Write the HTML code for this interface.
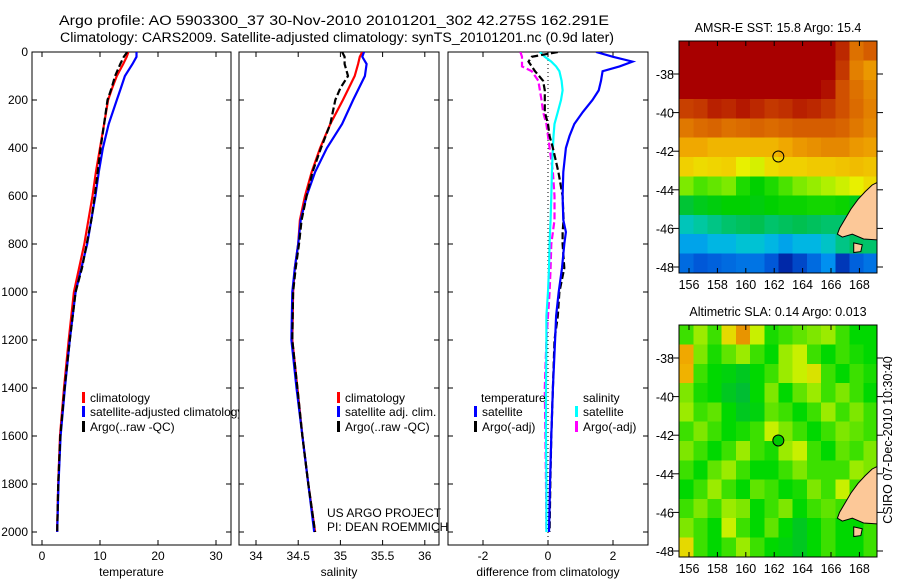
<!DOCTYPE html>
<html><head><meta charset="utf-8">
<style>
html,body{margin:0;padding:0;background:#fff;}
svg{display:block;font-family:"Liberation Sans",sans-serif;}
</style></head>
<body>
<svg id="fig" width="900" height="580" viewBox="0 0 900 580">
<defs>
<clipPath id="c1"><rect x="32" y="52" width="199" height="493"/></clipPath>
<clipPath id="c2"><rect x="239" y="52" width="200" height="493"/></clipPath>
<clipPath id="c3"><rect x="448" y="52" width="200" height="493"/></clipPath>
<clipPath id="m1"><rect x="679" y="41" width="198" height="232"/></clipPath>
<clipPath id="m2"><rect x="679" y="325" width="198" height="232"/></clipPath>
</defs>
<text x="59" y="25" font-size="13.5" textLength="550" lengthAdjust="spacingAndGlyphs">Argo profile: AO 5903300_37 30-Nov-2010 20101201_302 42.275S 162.291E</text>
<text x="60" y="42" font-size="13.5" textLength="554" lengthAdjust="spacingAndGlyphs">Climatology: CARS2009. Satellite-adjusted climatology: synTS_20101201.nc (0.9d later)</text>
<g id="g1"></g>
<g id="g2"></g>
<g id="g3"></g>
<g id="gm1"></g>
<g id="gm2"></g>
<text x="327" y="517" font-size="12">US ARGO PROJECT</text>
<text x="327" y="531" font-size="12">PI: DEAN ROEMMICH</text>
<text x="892" y="440" font-size="12.5" text-anchor="middle" transform="rotate(-90 892 440)">CSIRO 07-Dec-2010 10:30:40</text>
</svg>
<script>
// ---- profile data ----
const depths = [0,20,50,100,150,200,300,400,500,600,700,800,900,1000,1200,1400,1600,1800,2000];
const climT = [14.9,14.6,14.0,12.9,12.1,11.4,10.7,10.0,9.3,8.7,8.0,7.3,6.4,5.5,4.6,3.8,3.1,2.8,2.6];
const satT = [16.3,16.3,15.6,14.3,13.6,12.9,11.5,10.5,9.8,9.2,8.5,7.8,6.8,5.8,4.8,3.95,3.2,2.85,2.62];
const argoT = [14.7,14.1,13.5,12.6,12.0,11.3,10.7,10.1,9.6,9.1,8.5,7.7,6.9,5.8,4.8,3.9,3.15,2.8,2.62];
const climS = [35.26,35.23,35.21,35.17,35.1,35.03,34.88,34.76,34.66,34.58,34.52,34.50,34.46,34.44,34.43,34.49,34.55,34.62,34.70];
const satS = [35.28,35.26,35.31,35.29,35.22,35.15,35.02,34.84,34.70,34.60,34.53,34.50,34.46,34.43,34.42,34.48,34.55,34.62,34.69];
const argoS = [35.02,35.05,35.05,35.09,35.0,34.94,34.88,34.77,34.67,34.6,34.54,34.51,34.47,34.44,34.43,34.49,34.55,34.62,34.70];
const diffDepths = [0,20,40,60,80,120,160,200,250,300,350,400,500,600,700,750,800,900,1000,1100,1200,1400,1600,1800,2000];
const dTsat = [1.48,2.0,2.6,2.2,1.68,1.63,1.56,1.37,1.07,0.81,0.66,0.55,0.47,0.45,0.47,0.55,0.5,0.43,0.33,0.25,0.22,0.15,0.1,0.06,0.03];
const dTargo = [0.3,-0.5,-0.6,-0.5,-0.4,-0.15,-0.1,-0.1,-0.1,0.0,0.05,0.15,0.32,0.45,0.48,0.45,0.45,0.5,0.35,0.3,0.2,0.15,0.1,0.07,0.05];
const dSsat = [-0.25,-0.1,0.1,0.25,0.35,0.42,0.45,0.4,0.3,0.2,0.17,0.15,0.12,0.1,0.08,0.06,0.05,0.03,0.0,-0.05,-0.05,-0.06,-0.06,-0.05,-0.05];
const dSargo = [-0.85,-0.8,-0.8,-0.8,-0.5,-0.3,-0.25,-0.2,-0.15,-0.05,0.0,0.05,0.15,0.2,0.2,0.15,0.1,0.08,0.05,0.0,-0.05,-0.1,-0.08,-0.06,-0.05];
const depthTicks = [0,200,400,600,800,1000,1200,1400,1600,1800,2000];
const tempTicks = [0,10,20,30];
const salTicks = [34,34.5,35,35.5,36];
const salTickLabels = ["34","34.5","35","35.5","36"];
const diffTicks = [-2,0,2];
// ---- map data ----
const mapLons = [155.8,156.8,157.8,158.8,159.8,160.8,161.8,162.8,163.8,164.8,165.8,166.8,167.8,168.8];
const mapLats = [-36.8,-37.8,-38.8,-39.8,-40.8,-41.8,-42.8,-43.8,-44.8,-45.8,-46.8,-47.8];
const sstGrid = [
[18,18,18,18,18,18,18,18,18,18,18,17.5,16.5,16.8],
[18,18,18,18,18,18,18,18,18,18,18,17.3,16.3,16.0],
[18,18,18,18,18,18,18,18,18,18,17.8,17,16.5,16.2],
[17.2,17.3,17.6,17.5,17.7,17.5,17.3,17.4,17.6,17.5,17.3,17.0,16.6,16.3],
[16.4,16.6,16.7,16.5,16.6,16.7,16.6,16.7,16.8,16.8,16.8,16.7,16.4,16.2],
[15.8,15.8,15.6,15.6,15.6,15.6,15.6,15.8,16.0,16.1,16.2,16.2,16.0,15.9],
[15.2,15.0,15.1,15.2,14.6,14.4,15.0,15.2,15.2,15.3,15.3,15.4,15.5,15.4],
[13.8,13.6,13.7,13.8,13.3,13.0,13.3,13.6,13.8,13.9,14.0,14.3,14.6,15.0],
[12.6,12.8,12.9,13.0,13.0,12.9,13.0,13.1,13.1,13.2,13.2,13.1,12.8,12.8],
[11.6,11.8,12.0,12.2,12.3,12.4,12.2,12.3,12.4,12.3,12.2,12.2,12.4,12.6],
[11.0,11.0,11.2,11.2,11.4,11.4,11.2,11.0,11.2,11.2,11.5,12.0,12.3,12.2],
[10.4,10.2,10.3,10.4,10.5,10.5,10.2,9.6,10.0,10.4,10.8,9.8,10.3,10.5]];
const slaGrid = [
[0.05,0.12,0.05,0.2,0.35,0.15,0.02,0.05,0.08,0.1,0.12,0.05,0.0,0.0],
[0.3,0.1,0.02,0.08,0.12,0.05,0.0,0.12,0.15,0.05,0.0,0.05,0.02,0.0],
[0.28,0.05,0.0,-0.02,-0.05,0.0,0.05,0.12,0.15,0.18,0.05,0.0,0.05,0.02],
[0.1,0.02,0.0,-0.05,-0.08,0.0,0.1,0.0,0.08,0.12,0.05,0.1,0.05,0.0],
[0.12,0.05,0.08,0.0,-0.05,-0.02,0.08,0.05,0.0,0.05,0.12,0.05,0.1,0.05],
[0.05,0.1,0.05,0.0,0.02,0.05,0.15,0.1,0.05,0.0,0.05,0.1,0.08,0.05],
[0.1,0.05,0.0,0.05,0.12,0.05,0.02,0.12,0.15,0.05,0.0,0.08,0.05,0.1],
[0.05,0.0,0.08,0.12,0.05,0.0,0.0,0.05,0.1,0.05,0.05,0.05,0.12,0.1],
[0.0,0.05,0.12,0.05,0.0,0.08,0.05,0.0,0.02,0.1,0.05,0.15,0.05,0.05],
[0.05,0.1,0.05,0.12,0.1,0.0,0.05,0.1,0.0,0.05,0.08,0.05,0.0,0.0],
[0.1,0.05,0.0,0.15,0.05,0.0,0.08,0.0,-0.05,0.0,0.05,0.0,0.0,0.05],
[0.2,0.05,0.0,0.05,0.12,0.05,0.0,-0.02,-0.05,0.0,0.05,0.0,0.0,0.05]];
const argoLon = 162.291, argoLat = -42.275;
const lonTicks = [156,158,160,162,164,166,168];
const latTicks = [-38,-40,-42,-44,-46,-48];
const landLonLat = [[169.3,-43.6],[168.9,-43.75],[168.4,-44.1],[167.9,-44.5],[167.4,-45.0],[167.0,-45.5],[166.6,-46.0],[166.45,-46.3],[166.8,-46.45],[167.5,-46.3],[168.3,-46.55],[169.3,-46.6]];
const islandLonLat = [[167.6,-46.75],[168.2,-46.85],[168.1,-47.2],[167.6,-47.25]];

const NS='http://www.w3.org/2000/svg';
function mk(tag, attrs, parent){const e=document.createElementNS(NS,tag);for(const k in attrs)e.setAttribute(k,attrs[k]);parent.appendChild(e);return e;}
const yD = d => 52 + d*0.24;

function panel(g, x0, x1, clip, xf, xticks, xlabels, xtitle, showYLabels){
  const fr=mk('rect',{x:x0,y:52,width:x1-x0,height:493,fill:'#fff',stroke:'#000','stroke-width':1},g);
  
  
  depthTicks.forEach(d=>{
    const y=yD(d);
    mk('line',{x1:x0,x2:x0+5,y1:y,y2:y,stroke:'#000'},g);
    mk('line',{x1:x1-5,x2:x1,y1:y,y2:y,stroke:'#000'},g);
    if(showYLabels){const t=mk('text',{x:x0-4,y:y+4,'font-size':12,'text-anchor':'end'},g);t.textContent=d;
      
      }
  });
  xticks.forEach((v,i)=>{
    const x=xf(v);
    mk('line',{x1:x,x2:x,y1:52,y2:57,stroke:'#000'},g);
    mk('line',{x1:x,x2:x,y1:540,y2:545,stroke:'#000'},g);
    const t=mk('text',{x:x,y:560,'font-size':12,'text-anchor':'middle'},g);t.textContent=xlabels[i];
    
    
  });
  const tt=mk('text',{x:(x0+x1)/2,y:576,'font-size':12,'text-anchor':'middle'},g);tt.textContent=xtitle;
  
  
  return mk('g',{'clip-path':'url(#'+clip+')'},g);
}
function line(g, ds, vs, xf, color, dash, name){
  const p=mk('path',{d:ds.map((d,i)=>(i?'L':'M')+xf(vs[i]).toFixed(1)+','+yD(d).toFixed(1)).join(''),fill:'none',stroke:color,'stroke-width':2.2,'stroke-dasharray':dash||'none'},g);
  
  
}
function legend(g,x,y,color,label,name){
  mk('rect',{x:x,y:y-10,width:3,height:11,fill:color},g);
  const t=mk('text',{x:x+8,y:y,'font-size':12},g);t.textContent=label;
  
  
}
// temperature
const xT=v=>42+v*5.8;
const g1=document.getElementById('g1');
const p1=panel(g1,32,231,'c1',xT,tempTicks,tempTicks.map(String),'temperature',true);
line(p1,depths,climT,xT,'#f00',null,'climatology-temperature-line');
line(p1,depths,satT,xT,'#00f',null,'satellite-temperature-line');
line(p1,depths,argoT,xT,'#000','7,3','argo-temperature-line');
const l1=mk('g',{},g1);
legend(l1,82,402,'#f00','climatology','legend-climatology');
legend(l1,82,416,'#00f','satellite-adjusted climatology','legend-satellite-adjusted');
legend(l1,82,431,'#000','Argo(..raw -QC)','legend-argo');
// salinity
const xS=v=>256+(v-34)*84.4;
const g2=document.getElementById('g2');
const p2=panel(g2,239,439,'c2',xS,salTicks,salTickLabels,'salinity',false);
line(p2,depths,climS,xS,'#f00',null,'climatology-salinity-line');
line(p2,depths,satS,xS,'#00f',null,'satellite-salinity-line');
line(p2,depths,argoS,xS,'#000','7,3','argo-salinity-line');
legend(g2,337,402,'#f00','climatology','legend-climatology-sal');
legend(g2,337,416,'#00f','satellite adj. clim.','legend-satellite-sal');
legend(g2,337,431,'#000','Argo(..raw -QC)','legend-argo-sal');
// difference
const xDf=v=>548+v*32.5;
const g3=document.getElementById('g3');
const p3=panel(g3,448,648,'c3',xDf,diffTicks,diffTicks.map(String),'difference from climatology',false);
const zl=mk('line',{x1:xDf(0),x2:xDf(0),y1:52,y2:545,stroke:'#000','stroke-dasharray':'1,3'},p3);


line(p3,diffDepths,dSargo,xDf,'#f0f','7,3','argo-salinity-diff-line');
line(p3,diffDepths,dSsat,xDf,'#0ff',null,'satellite-salinity-diff-line');
line(p3,diffDepths,dTargo,xDf,'#000','7,3','argo-temperature-diff-line');
line(p3,diffDepths,dTsat,xDf,'#00f',null,'satellite-temperature-diff-line');
const th=mk('text',{x:481,y:402,'font-size':12},g3);th.textContent='temperature';


const sh=mk('text',{x:583,y:402,'font-size':12},g3);sh.textContent='salinity';


legend(g3,474,416,'#00f','satellite','legend-temp-satellite');
legend(g3,474,431,'#000','Argo(-adj)','legend-temp-argo');
legend(g3,575,416,'#0ff','satellite','legend-sal-satellite');
legend(g3,575,431,'#f0f','Argo(-adj)','legend-sal-argo');

// colormaps
function hex(c){return [parseInt(c.slice(1,3),16),parseInt(c.slice(3,5),16),parseInt(c.slice(5,7),16)];}
function cmap(stops,v){
  if(v<=stops[0][0])return stops[0][1];
  for(let i=1;i<stops.length;i++){if(v<=stops[i][0]){const a=hex(stops[i-1][1]),b=hex(stops[i][1]);const f=(v-stops[i-1][0])/(stops[i][0]-stops[i-1][0]);
    return 'rgb('+a.map((x,j)=>Math.round(x+(b[j]-x)*f)).join(',')+')';}}
  return stops[stops.length-1][1];
}
const sstStops=[[9.5,'#0020a0'],[10.2,'#0058d8'],[10.8,'#0090f0'],[11.3,'#00c0e0'],[11.8,'#00c8a0'],[12.4,'#00c050'],[13.0,'#00d000'],[13.5,'#30e000'],[14.0,'#b0f000'],[14.6,'#e8f000'],[15.2,'#f0d000'],[15.8,'#f0a800'],[16.4,'#e07800'],[17.0,'#d05000'],[17.6,'#b82000'],[18,'#a80000']];
const slaStops=[[-0.1,'#00b840'],[0,'#00d800'],[0.08,'#60e400'],[0.15,'#c8f000'],[0.22,'#f0d000'],[0.3,'#f0a800'],[0.4,'#e08000']];

function drawMap(gid,top,clip,grid,stops,title,circleFill){
  const g=document.getElementById(gid);
  const xL=lon=>689+(lon-156)*14.2;
  const yL=lat=>top+33+(-38-lat)*19.3;
  const t=mk('text',{x:778,y:top-9,'font-size':12.5,'text-anchor':'middle'},g);t.textContent=title;
  
  
  const cg=mk('g',{'clip-path':'url(#'+clip+')','shape-rendering':'crispEdges'},g);
  grid.forEach((row,r)=>row.forEach((v,c)=>{
    const lon=mapLons[c],lat=mapLats[r];
    const cell=mk('rect',{x:xL(lon-0.5),y:yL(lat+0.5),width:14.4,height:19.5,fill:cmap(stops,v)},cg);
    
    
  }));
  const land=mk('polygon',{points:landLonLat.map(p=>xL(p[0])+','+yL(p[1])).join(' '),fill:'#fcc898',stroke:'#000','stroke-width':1},mk('g',{'clip-path':'url(#'+clip+')'},g));
  
  
  const isl=mk('polygon',{points:islandLonLat.map(p=>xL(p[0])+','+yL(p[1])).join(' '),fill:'#fcc898',stroke:'#000','stroke-width':1},g);
  
  
  const fr=mk('rect',{x:679,y:top,width:198,height:232,fill:'none',stroke:'#000'},g);
  
  
  lonTicks.forEach(l=>{const x=xL(l);
    mk('line',{x1:x,x2:x,y1:top,y2:top+5,stroke:'#000'},g);
    mk('line',{x1:x,x2:x,y1:top+227,y2:top+232,stroke:'#000'},g);
    const tl=mk('text',{x:x,y:top+248,'font-size':12.5,'text-anchor':'middle'},g);tl.textContent=l;
    
    });
  latTicks.forEach(l=>{const y=yL(l);
    mk('line',{x1:672,x2:679,y1:y,y2:y,stroke:'#000'},g);
    mk('line',{x1:877,x2:883,y1:y,y2:y,stroke:'#000'},g);
    const tl=mk('text',{x:674,y:y+5,'font-size':12.5,'text-anchor':'end'},g);tl.textContent=l;
    
    });
  const c=mk('circle',{cx:xL(argoLon),cy:yL(argoLat),r:5.5,fill:circleFill,stroke:'#000','stroke-width':1},g);
  
  
}
drawMap('gm1',41,'m1',sstGrid,sstStops,'AMSR-E SST: 15.8 Argo: 15.4','none');
drawMap('gm2',325,'m2',slaGrid,slaStops,'Altimetric SLA: 0.14 Argo: 0.013','#00c800');
</script>
</body></html>
